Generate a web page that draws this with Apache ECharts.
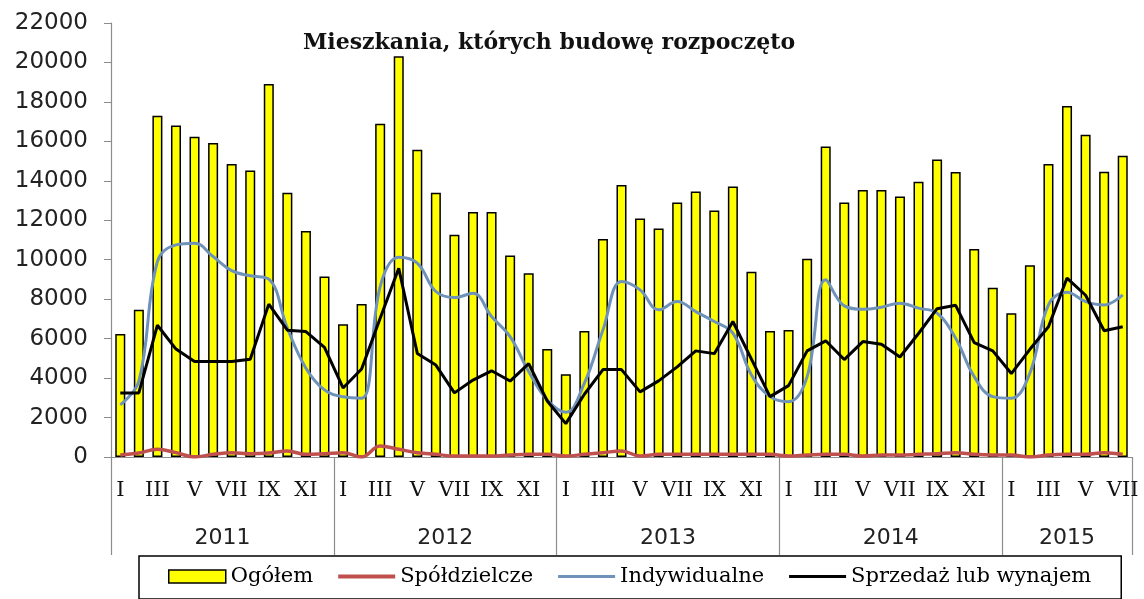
<!DOCTYPE html>
<html>
<head>
<meta charset="utf-8">
<script src="https://cdn.jsdelivr.net/npm/echarts@6/dist/echarts.min.js"></script>
<style>html,body{margin:0;padding:0;background:#fff;}#c{width:1144px;height:599px;}</style>
</head>
<body>
<div id="c"></div>
<script>
const monthNames = ['I','II','III','IV','V','VI','VII','VIII','IX','X','XI','XII'];
const years = ['2011','2012','2013','2014','2015'];
const monthsPerYear = [12,12,12,12,7];

const ogolem = [
  6240, 7460, 17300, 16810, 16235, 15915, 14850, 14525, 18910, 13395, 11450, 9150,
  6730, 7760, 16895, 20310, 15575, 13395, 11263, 12415, 12415, 10213, 9320, 5480,
  4195, 6390, 11045, 13785, 12090, 11585, 12900, 13460, 12495, 13715, 9385, 6390,
  6440, 10045, 15745, 12900, 13530, 13530, 13205, 13950, 15085, 14445, 10540, 8575,
  7290, 9725, 14850, 17790, 16335, 14460, 15270
];
const spoldzielcze = [
  100, 200, 390, 220, 0, 135, 220, 170, 200, 300, 135, 170,
  220, 0, 560, 390, 220, 135, 50, 50, 50, 100, 135, 135,
  50, 135, 220, 305, 50, 135, 135, 135, 135, 135, 135, 135,
  50, 100, 135, 135, 50, 100, 100, 135, 170, 220, 135, 100,
  100, 0, 100, 135, 135, 220, 135
];
const indywidualne = [
  2640, 3850, 9910, 10755, 10840, 10160, 9450, 9185, 9015, 6530, 4500, 3400,
  3050, 2980, 8640, 10130, 9830, 8390, 8080, 8300, 7120, 6100, 4330, 2890,
  2270, 3740, 6440, 8895, 8470, 7460, 7880, 7370, 6865, 6275, 4160, 3060,
  2805, 4075, 8980, 7660, 7490, 7595, 7800, 7545, 7290, 6020, 4075, 3060,
  2980, 4250, 7710, 8355, 7880, 7710, 8220
];
const sprzedaz = [
  3250, 3250, 6680, 5470, 4840, 4840, 4840, 4960, 7750, 6430, 6360, 5560,
  3500, 4460, 7030, 9570, 5250, 4660, 3250, 3900, 4370, 3850, 4730, 2840,
  1690, 3180, 4430, 4430, 3300, 3860, 4570, 5380, 5240, 6870, 4960, 3060,
  3620, 5380, 5890, 4940, 5850, 5720, 5070, 6260, 7520, 7690, 5800, 5380,
  4230, 5460, 6600, 9070, 8200, 6400, 6600
];
const seriesNames = ['Ogółem','Spółdzielcze','Indywidualne','Sprzedaż lub wynajem'];
const titleText = 'Mieszkania, których budowę rozpoczęto';

const categories = [];
const monthLabelPos = [];
const monthLabelText = {};
const boundaries = [0];
const yearCenters = [];
let acc = 0;
years.forEach((y, i) => {
  for (let m = 0; m < monthsPerYear[i]; m++) {
    categories.push(monthNames[m] + ' ' + y);
    if (m % 2 === 0) {
      const p = acc + m + 0.5;
      monthLabelPos.push(p);
      monthLabelText[p] = monthNames[m];
    }
  }
  yearCenters.push(acc + monthsPerYear[i] / 2);
  acc += monthsPerYear[i];
  boundaries.push(acc);
});
const total = acc;

const SERIF = "DejaVu Serif";
const SANS = "DejaVu Sans";
const axisGray = '#8c8c8c';

const chart = echarts.init(document.getElementById('c'), null, {renderer: 'canvas'});
chart.setOption({
  animation: false,
  backgroundColor: '#fff',
  textStyle: {fontFamily: SERIF},
  title: {
    text: titleText,
    left: 303, top: 32, padding: 0,
    textStyle: {fontFamily: SERIF, fontWeight: 'bold', fontSize: 22, color: '#111'}
  },
  grid: {left: 111, right: 12, top: 23, bottom: 142, containLabel: false},
  legend: {
    left: 139, top: 556,
    padding: [10, 30, 12, 29],
    itemGap: 25,
    itemWidth: 57, itemHeight: 13,
    borderColor: '#000', borderWidth: 1.5,
    formatter: '{s|{name}}',
    textStyle: {
      fontFamily: SERIF, fontSize: 21, color: '#000',
      rich: {s: {fontFamily: SERIF, fontSize: 21, color: '#000'}}
    },
    data: [
      {name: seriesNames[0], icon: 'rect', itemStyle: {color: '#ffff00', borderColor: '#000', borderWidth: 1.5}},
      {name: seriesNames[1], icon: 'path://M0,0H57V4H0Z', itemStyle: {color: '#c0504d', borderWidth: 0}},
      {name: seriesNames[2], icon: 'path://M0,0H57V3H0Z', itemStyle: {color: '#6f92bb', borderWidth: 0}},
      {name: seriesNames[3], icon: 'path://M0,0H57V3H0Z', itemStyle: {color: '#000', borderWidth: 0}}
    ]
  },
  xAxis: [
    {
      type: 'category', data: categories, position: 'bottom', offset: 0,
      axisLine: {show: true, lineStyle: {color: axisGray, width: 1.2}},
      axisTick: {show: false},
      axisLabel: {show: false},
      splitLine: {show: false}
    },
    {
      type: 'value', min: 0, max: total, position: 'bottom', offset: 0,
      axisLine: {show: false},
      axisTick: {show: true, customValues: monthLabelPos, length: 1, lineStyle: {color: 'rgba(0,0,0,0)'}},
      axisLabel: {
        customValues: monthLabelPos, margin: 23, verticalAlign: 'top',
        fontFamily: SERIF, fontSize: 21, color: '#111',
        formatter: (v) => monthLabelText[v] || ''
      },
      splitLine: {show: false}
    },
    {
      type: 'value', min: 0, max: total, position: 'bottom', offset: 0,
      axisLine: {show: false},
      axisTick: {show: true, customValues: boundaries, length: 98, lineStyle: {color: axisGray, width: 1.2}},
      axisLabel: {
        customValues: yearCenters, margin: 70,
        fontFamily: SANS, fontSize: 22, color: '#222',
        formatter: (v) => { const i = yearCenters.indexOf(v); return i >= 0 ? years[i] : ''; }
      },
      splitLine: {show: false}
    }
  ],
  yAxis: {
    type: 'value', min: 0, max: 22000, interval: 2000,
    axisLine: {show: true, lineStyle: {color: axisGray, width: 1.2}},
    axisTick: {show: true, length: 7, lineStyle: {color: axisGray}},
    axisLabel: {margin: 23, fontFamily: SANS, fontSize: 23, color: '#222', formatter: (v) => String(v)},
    splitLine: {show: false}
  },
  series: [
    {
      name: seriesNames[0], type: 'bar', data: ogolem, barWidth: '54%',
      itemStyle: {color: '#ffff00', borderColor: '#000', borderWidth: 1.5}
    },
    {
      name: seriesNames[1], type: 'line', data: spoldzielcze, smooth: 0.4, symbol: 'none',
      itemStyle: {color: '#c0504d'}, lineStyle: {color: '#c0504d', width: 3.5}
    },
    {
      name: seriesNames[2], type: 'line', data: indywidualne, smooth: 0.4, symbol: 'none',
      itemStyle: {color: '#6f92bb'}, lineStyle: {color: '#6f92bb', width: 3}
    },
    {
      name: seriesNames[3], type: 'line', data: sprzedaz, smooth: false, symbol: 'none',
      itemStyle: {color: '#000'}, lineStyle: {color: '#000', width: 3}
    }
  ]
});
</script>
</body>
</html>
